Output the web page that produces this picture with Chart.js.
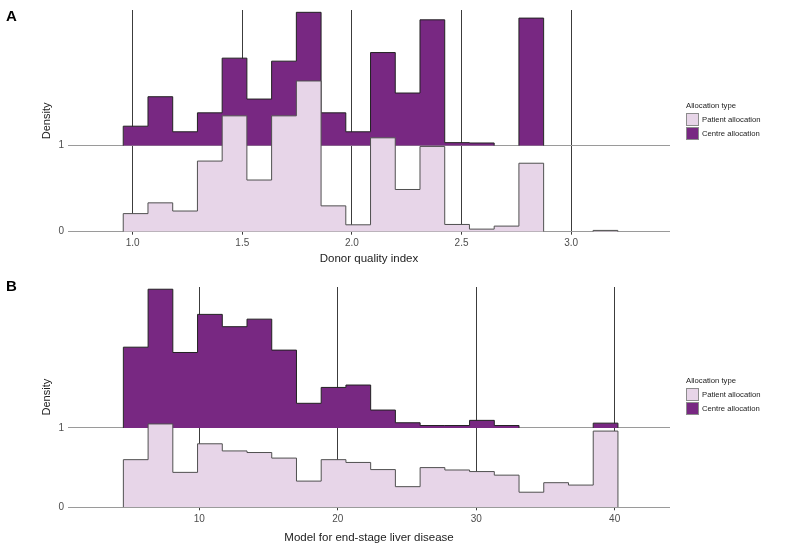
<!DOCTYPE html>
<html>
<head>
<meta charset="utf-8">
<script src="https://cdn.jsdelivr.net/npm/chart.js@4/dist/chart.umd.min.js"></script>
<style>
  body { margin: 0; background: #fff; font-family: 'Liberation Sans', Arial, sans-serif; }
  #wrap { position: relative; width: 787px; height: 555px; }
  .panel { position: absolute; left: 0; width: 787px; }
  .tag { position: absolute; left: 6px; font-size: 15px; font-weight: bold; line-height: 15px; color: #000; }
  .legend { position: absolute; left: 686px; font-size: 7.7px; color: #222; }
  .legend .title { height: 12px; line-height: 12px; }
  .legend .item { height: 14px; display: flex; align-items: center; }
  .legend .box { width: 11px; height: 11px; border: 1px solid #8c8c8c; margin-right: 3px; }
</style>
</head>
<body>
<div id="wrap">
  <div class="panel" style="top:0;height:277px"><canvas id="chartA"></canvas></div>
  <div class="panel" style="top:277px;height:278px"><canvas id="chartB"></canvas></div>
  <div class="tag" style="top:8px">A</div>
  <div class="tag" style="top:278px">B</div>
  <div class="legend" style="top:100px">
    <div class="title">Allocation type</div>
    <div class="item"><span class="box" style="background:#e7d5e8"></span>Patient allocation</div>
    <div class="item"><span class="box" style="background:#782882"></span>Centre allocation</div>
  </div>
  <div class="legend" style="top:375px">
    <div class="title">Allocation type</div>
    <div class="item"><span class="box" style="background:#e7d5e8"></span>Patient allocation</div>
    <div class="item"><span class="box" style="background:#782882"></span>Centre allocation</div>
  </div>
</div>
<script>
// Panel A - donor quality index (20 bins)
const dqiBinStart = 0.957;
const dqiBinWidth = 0.1128;
const dqiPatient = [0.21, 0.335, 0.24, 0.82, 1.345, 0.60, 1.345, 1.75, 0.30, 0.08, 1.09, 0.49, 0.99, 0.084, 0.03, 0.065, 0.795, 0, 0, 0.015];
const dqiCentre = [0.225, 0.567, 0.16, 0.38, 1.015, 0.54, 0.98, 1.547, 0.38, 0.16, 1.08, 0.61, 1.46, 0.034, 0.03, 0, 1.48, 0, 0, 0];
const dqiTicks = [1.0, 1.5, 2.0, 2.5, 3.0];

// Panel B - MELD score (20 bins)
const meldBinStart = 4.51;
const meldBinWidth = 1.7865;
const meldPatient = [0.60, 1.05, 0.44, 0.80, 0.71, 0.69, 0.62, 0.33, 0.60, 0.565, 0.475, 0.26, 0.50, 0.47, 0.45, 0.405, 0.19, 0.31, 0.28, 0.96];
const meldCentre = [1.017, 1.747, 0.95, 1.43, 1.275, 1.37, 0.98, 0.31, 0.51, 0.54, 0.225, 0.065, 0.03, 0.03, 0.095, 0.03, 0, 0, 0, 0.06];
const meldTicks = [10, 20, 30, 40];

const densityTicks = [0, 1];

Chart.defaults.font.family = "'Liberation Sans', Arial, sans-serif";

// step outline of a histogram sitting on `base`; runs of empty bins break the line
function histPoints(start, width, heights, base) {
    const pts = [];
    heights.forEach((h, i) => {
        if (h <= 0) return;
        const left = start + i * width;
        const right = left + width;
        if (i === 0 || heights[i - 1] <= 0) pts.push({ x: left, y: base });
        pts.push({ x: left, y: base + h });
        if (i === heights.length - 1 || heights[i + 1] <= 0) {
            pts.push({ x: right, y: base + h });
            pts.push({ x: right, y: base });
            pts.push({ x: right, y: null });
        }
    });
    return pts;
}

function makePanel(id, p) {
    const ctx = document.getElementById(id).getContext('2d');
    return new Chart(ctx, {
        type: 'line',
        data: {
            datasets: [{
                label: 'Patient allocation',
                data: histPoints(p.start, p.width, p.patient, 0),
                stepped: 'before',
                borderColor: '#505050',
                borderWidth: 1,
                backgroundColor: '#e7d5e8',
                fill: { value: 0 },
                pointRadius: 0,
                spanGaps: false
            }, {
                label: 'Centre allocation',
                data: histPoints(p.start, p.width, p.centre, 1),
                stepped: 'before',
                borderColor: '#222',
                borderWidth: 1,
                backgroundColor: '#782882',
                fill: { value: 1 },
                pointRadius: 0,
                spanGaps: false
            }]
        },
        options: {
            responsive: true,
            maintainAspectRatio: false,
            animation: false,
            layout: { padding: { top: p.padTop, right: 117, left: 0, bottom: 0 } },
            plugins: {
                legend: { display: false },
                tooltip: { enabled: false }
            },
            scales: {
                x: {
                    type: 'linear',
                    min: p.xMin,
                    max: p.xMax,
                    afterBuildTicks: (scale) => { scale.ticks = p.ticks.map(v => ({ value: v })); },
                    afterFit: (scale) => { scale.height = p.xAxisHeight; },
                    border: { display: false },
                    grid: {
                        color: '#3c3c3c',
                        lineWidth: 1,
                        drawTicks: true,
                        tickLength: 3
                    },
                    ticks: {
                        font: { size: 10 },
                        color: '#4d4d4d',
                        padding: 3,
                        maxRotation: 0,
                        callback: p.fmt
                    },
                    title: {
                        display: true,
                        text: p.xTitle,
                        font: { size: 11.5 },
                        color: '#222',
                        padding: { top: 0, bottom: p.titlePad }
                    }
                },
                y: {
                    type: 'linear',
                    min: 0,
                    max: p.yMax,
                    afterBuildTicks: (scale) => { scale.ticks = densityTicks.map(v => ({ value: v })); },
                    afterFit: (scale) => { scale.width = 68; },
                    border: { display: false },
                    grid: {
                        color: '#9a9a9a',
                        lineWidth: 1,
                        drawTicks: false
                    },
                    ticks: {
                        font: { size: 10 },
                        color: '#4d4d4d',
                        padding: 4
                    },
                    title: {
                        display: true,
                        text: 'Density',
                        font: { size: 11 },
                        color: '#222',
                        padding: { top: 40, bottom: 0 }
                    }
                }
            }
        }
    });
}

makePanel('chartA', {
    start: dqiBinStart, width: dqiBinWidth,
    patient: dqiPatient, centre: dqiCentre, ticks: dqiTicks,
    xMin: 0.705, xMax: 3.451, yMax: 2.574,
    padTop: 6, xAxisHeight: 45.3, titlePad: 11.4,
    xTitle: 'Donor quality index',
    fmt: (v) => Number(v).toFixed(1)
});

makePanel('chartB', {
    start: meldBinStart, width: meldBinWidth,
    patient: meldPatient, centre: meldCentre, ticks: meldTicks,
    xMin: 0.51, xMax: 44.0, yMax: 2.775,
    padTop: 4.7, xAxisHeight: 47.7, titlePad: 9.8,
    xTitle: 'Model for end-stage liver disease',
    fmt: (v) => String(v)
});
</script>
</body>
</html>
